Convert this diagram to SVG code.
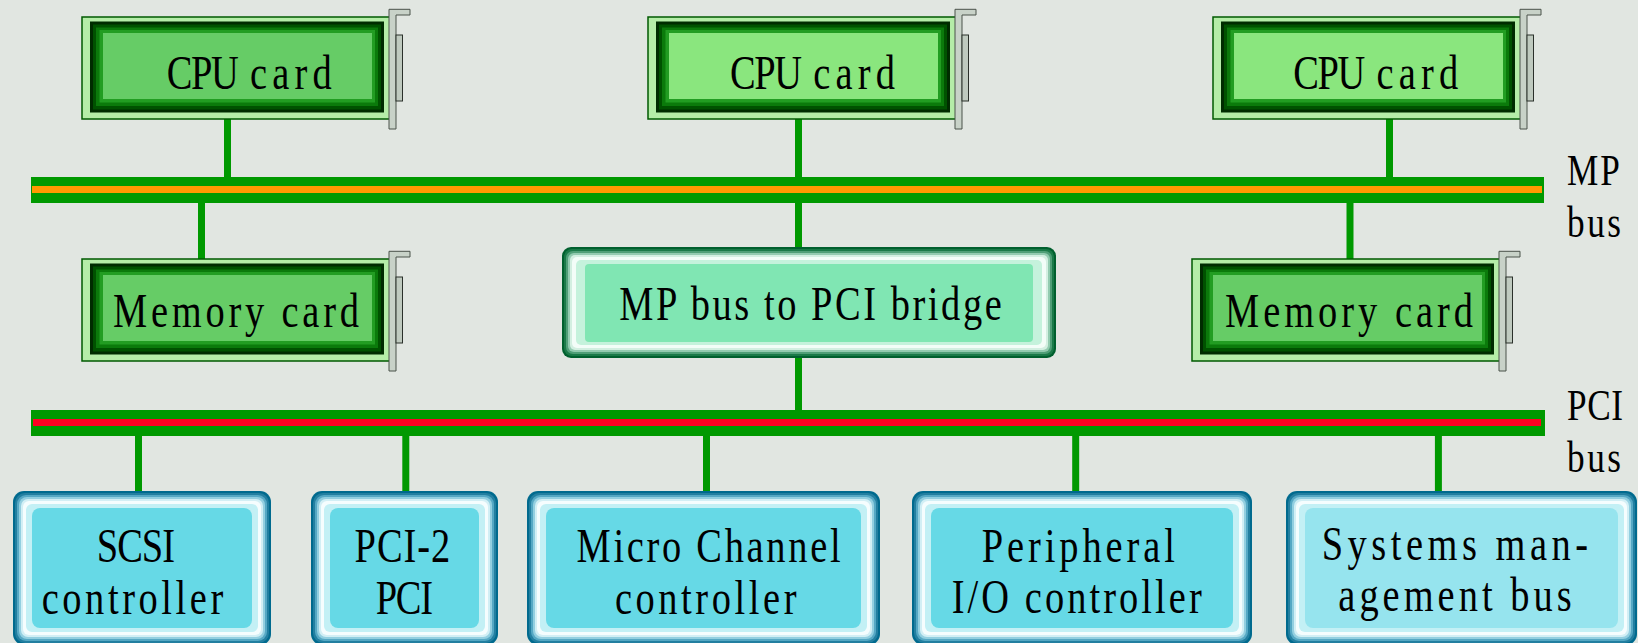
<svg xmlns="http://www.w3.org/2000/svg" xmlns:xlink="http://www.w3.org/1999/xlink" width="1638" height="643" viewBox="0 0 1638 643">
<style>
.t{font-family:"Liberation Serif","Times New Roman",serif;font-size:48px;fill:#000}
.l{font-family:"Liberation Serif","Times New Roman",serif;font-size:44px;fill:#000}
.con line{stroke:#009900;stroke-width:7}
.busg{fill:#009900}
.c0{fill:#006a8e}.c1{fill:#237fa0}.c2{fill:#55a8c4}.c3{fill:#93cfe0}.c4{fill:#d2eff5}.c5{fill:#f5fdfe}.c6{fill:#c3f0f5}.ci{fill:#66d9e6}.cil{fill:#96e4ee}
.g0{fill:#00602e}.g1{fill:#1a7a48}.g2{fill:#4f9f77}.g3{fill:#93cbb0}.g4{fill:#d3efe1}.g5{fill:#f3fdf8}.g6{fill:#c5f2dc}.gi{fill:#80e6b3}
.cardin{fill:#66cc66}.cardinl{fill:#8ae67e}
</style>
<defs>
<g id="cardFrame">
<rect x="0" y="0" width="308" height="102" fill="#b5eda8" stroke="#005a00" stroke-width="1.5"/>
<rect x="8" y="4.5" width="294" height="91" fill="#002c00"/>
<rect x="11" y="7.5" width="288" height="85" fill="#005200"/>
<rect x="14" y="10.5" width="282" height="78.5" fill="#0b7a0b"/>
<rect x="17.5" y="13" width="275.5" height="72.5" fill="#229d22"/>
<path d="M307,-7.7 H328 V-2 H314 V112 H307 Z" fill="#c8d2c8" stroke="#4a524a" stroke-width="1"/>
<rect x="314" y="18" width="6.5" height="66" fill="#bfcabf" stroke="#2a302a" stroke-width="1"/>
</g>
</defs>
<rect x="0" y="0" width="1638" height="643" fill="#e1e6e1"/>

<g id="connectors" class="con">
<line x1="227.5" y1="119" x2="227.5" y2="177"/>
<line x1="798.5" y1="119" x2="798.5" y2="177"/>
<line x1="1389.5" y1="119" x2="1389.5" y2="177"/>
<line x1="201.5" y1="203" x2="201.5" y2="259"/>
<line x1="798.5" y1="203" x2="798.5" y2="247"/>
<line x1="1350" y1="203" x2="1350" y2="259"/>
<line x1="798.5" y1="358" x2="798.5" y2="410"/>
<line x1="138.5" y1="435" x2="138.5" y2="491"/>
<line x1="405.8" y1="435" x2="405.8" y2="491"/>
<line x1="706.5" y1="435" x2="706.5" y2="491"/>
<line x1="1075.7" y1="435" x2="1075.7" y2="491"/>
<line x1="1438.4" y1="435" x2="1438.4" y2="491"/>
</g>

<g id="mp-bus">
<rect class="busg" x="31" y="177" width="1513" height="26"/>
<rect x="32" y="186" width="1510" height="7" fill="#ff9900"/>
<text class="l" transform="translate(1567,185) scale(0.8,1)" textLength="66" lengthAdjust="spacing">MP</text>
<text class="l" transform="translate(1567,237) scale(0.8,1)" textLength="67.5" lengthAdjust="spacing">bus</text>
</g>

<g id="pci-bus">
<rect class="busg" x="31" y="410" width="1514" height="26"/>
<rect x="33" y="419" width="1508" height="7" fill="#ff0022"/>
<text class="l" transform="translate(1567,420) scale(0.8,1)" textLength="70" lengthAdjust="spacing">PCI</text>
<text class="l" transform="translate(1567,472) scale(0.8,1)" textLength="67.5" lengthAdjust="spacing">bus</text>
</g>

<g id="cpu1">
<use xlink:href="#cardFrame" href="#cardFrame" x="82" y="17"/>
<rect class="cardin" x="103" y="33" width="269" height="66"/>
<text class="t" transform="translate(166.7,89.3) scale(0.8,1)" textLength="90" lengthAdjust="spacing">CPU</text>
<text class="t" transform="translate(250,89.3) scale(0.8,1)" textLength="102" lengthAdjust="spacing">card</text>
</g>
<g id="cpu2">
<use xlink:href="#cardFrame" href="#cardFrame" x="648" y="17"/>
<rect class="cardinl" x="669" y="33" width="269" height="66"/>
<text class="t" transform="translate(730,89.3) scale(0.8,1)" textLength="90" lengthAdjust="spacing">CPU</text>
<text class="t" transform="translate(813.3,89.3) scale(0.8,1)" textLength="102" lengthAdjust="spacing">card</text>
</g>
<g id="cpu3">
<use xlink:href="#cardFrame" href="#cardFrame" x="1213" y="17"/>
<rect class="cardinl" x="1234" y="33" width="269" height="66"/>
<text class="t" transform="translate(1293.3,89.3) scale(0.8,1)" textLength="90" lengthAdjust="spacing">CPU</text>
<text class="t" transform="translate(1376.6,89.3) scale(0.8,1)" textLength="102" lengthAdjust="spacing">card</text>
</g>
<g id="mem1">
<use xlink:href="#cardFrame" href="#cardFrame" x="82" y="259"/>
<rect class="cardin" x="103" y="275" width="269" height="66"/>
<text class="t" transform="translate(113,327) scale(0.8,1)" textLength="307.5" lengthAdjust="spacing">Memory card</text>
</g>
<g id="mem2">
<use xlink:href="#cardFrame" href="#cardFrame" x="1192" y="259"/>
<rect class="cardin" x="1213" y="275" width="269" height="66"/>
<text class="t" transform="translate(1225,327) scale(0.8,1)" textLength="310" lengthAdjust="spacing">Memory card</text>
</g>

<g id="bridge">
<rect class="g0" x="562" y="247" width="494" height="111" rx="9"/>
<rect class="g1" x="564" y="249" width="490" height="107" rx="8"/>
<rect class="g2" x="566" y="251" width="486" height="103" rx="7"/>
<rect class="g3" x="568" y="253" width="482" height="99" rx="6"/>
<rect class="g4" x="570" y="255" width="478" height="95" rx="5"/>
<rect class="g5" x="572" y="257" width="474" height="91" rx="5"/>
<rect class="g6" x="576" y="260" width="466" height="85" rx="5"/>
<rect class="gi" x="585" y="264" width="448" height="78" rx="4"/>
<text class="t" transform="translate(619.3,320) scale(0.8,1)" textLength="478" lengthAdjust="spacing">MP bus to PCI bridge</text>
</g>

<g id="scsi">
<rect class="c0" x="13" y="491" width="258" height="154" rx="11"/>
<rect class="c1" x="15" y="493" width="254" height="150" rx="10"/>
<rect class="c2" x="17" y="495" width="250" height="146" rx="9"/>
<rect class="c3" x="19" y="497" width="246" height="142" rx="8"/>
<rect class="c4" x="21" y="499" width="242" height="138" rx="7"/>
<rect class="c5" x="23" y="501" width="238" height="134" rx="6"/>
<rect class="c6" x="26" y="504" width="232" height="128" rx="6"/>
<rect class="ci" x="32" y="508" width="220" height="120" rx="8"/>
<text class="t" transform="translate(96.7,562) scale(0.8,1)" textLength="98" lengthAdjust="spacing">SCSI</text>
<text class="t" transform="translate(41.7,614) scale(0.8,1)" textLength="227" lengthAdjust="spacing">controller</text>
</g>

<g id="pci2pci">
<rect class="c0" x="311" y="491" width="187" height="154" rx="11"/>
<rect class="c1" x="313" y="493" width="183" height="150" rx="10"/>
<rect class="c2" x="315" y="495" width="179" height="146" rx="9"/>
<rect class="c3" x="317" y="497" width="175" height="142" rx="8"/>
<rect class="c4" x="319" y="499" width="171" height="138" rx="7"/>
<rect class="c5" x="321" y="501" width="167" height="134" rx="6"/>
<rect class="c6" x="324" y="504" width="161" height="128" rx="6"/>
<rect class="ci" x="330" y="508" width="149" height="120" rx="8"/>
<text class="t" transform="translate(354.6,562) scale(0.8,1)" textLength="119.6" lengthAdjust="spacing">PCI-2</text>
<text class="t" transform="translate(375.7,614) scale(0.8,1)" textLength="71.6" lengthAdjust="spacing">PCI</text>
</g>

<g id="microchannel">
<rect class="c0" x="527" y="491" width="353" height="154" rx="11"/>
<rect class="c1" x="529" y="493" width="349" height="150" rx="10"/>
<rect class="c2" x="531" y="495" width="345" height="146" rx="9"/>
<rect class="c3" x="533" y="497" width="341" height="142" rx="8"/>
<rect class="c4" x="535" y="499" width="337" height="138" rx="7"/>
<rect class="c5" x="537" y="501" width="333" height="134" rx="6"/>
<rect class="c6" x="540" y="504" width="327" height="128" rx="6"/>
<rect class="ci" x="546" y="508" width="315" height="120" rx="8"/>
<text class="t" transform="translate(576.6,562) scale(0.8,1)" textLength="330" lengthAdjust="spacing">Micro Channel</text>
<text class="t" transform="translate(614.9,614) scale(0.8,1)" textLength="227" lengthAdjust="spacing">controller</text>
</g>

<g id="peripheral">
<rect class="c0" x="912" y="491" width="340" height="154" rx="11"/>
<rect class="c1" x="914" y="493" width="336" height="150" rx="10"/>
<rect class="c2" x="916" y="495" width="332" height="146" rx="9"/>
<rect class="c3" x="918" y="497" width="328" height="142" rx="8"/>
<rect class="c4" x="920" y="499" width="324" height="138" rx="7"/>
<rect class="c5" x="922" y="501" width="320" height="134" rx="6"/>
<rect class="c6" x="925" y="504" width="314" height="128" rx="6"/>
<rect class="ci" x="931" y="508" width="302" height="120" rx="8"/>
<text class="t" transform="translate(981.7,562) scale(0.8,1)" textLength="241.6" lengthAdjust="spacing">Peripheral</text>
<text class="t" transform="translate(951.7,613) scale(0.8,1)" textLength="312.5" lengthAdjust="spacing">I/O controller</text>
</g>

<g id="sysmgmt">
<rect class="c0" x="1286" y="491" width="351" height="154" rx="11"/>
<rect class="c1" x="1288" y="493" width="347" height="150" rx="10"/>
<rect class="c2" x="1290" y="495" width="343" height="146" rx="9"/>
<rect class="c3" x="1292" y="497" width="339" height="142" rx="8"/>
<rect class="c4" x="1294" y="499" width="335" height="138" rx="7"/>
<rect class="c5" x="1296" y="501" width="331" height="134" rx="6"/>
<rect class="c6" x="1299" y="504" width="325" height="128" rx="6"/>
<rect class="cil" x="1305" y="508" width="313" height="120" rx="8"/>
<text class="t" transform="translate(1321.7,559.5) scale(0.8,1)" textLength="333" lengthAdjust="spacing">Systems man-</text>
<text class="t" transform="translate(1338.3,610.5) scale(0.8,1)" textLength="291.7" lengthAdjust="spacing">agement bus</text>
</g>
</svg>
